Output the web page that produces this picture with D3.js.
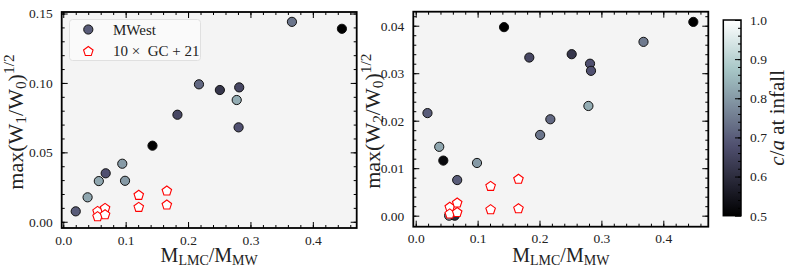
<!DOCTYPE html>
<html><head><meta charset="utf-8">
<script src="https://cdn.jsdelivr.net/npm/d3@7/dist/d3.min.js"></script>
<style>
html,body{margin:0;padding:0;background:#fff;}
svg{display:block;font-family:"Liberation Serif","DejaVu Serif",serif;}
</style></head>
<body>
<svg id="c" width="793" height="273"></svg>
<script>
// ---- data ----
const xW1 = [0.020, 0.039, 0.057, 0.068, 0.0946, 0.099, 0.143, 0.183, 0.2175, 0.251, 0.282, 0.278, 0.281, 0.3665, 0.4466];
const yW1 = [0.0075, 0.0176, 0.0293, 0.0349, 0.0418, 0.0295, 0.0548, 0.0771, 0.0990, 0.0949, 0.0968, 0.0877, 0.0680, 0.1440, 0.1390];
const caW1 = [0.70, 0.82, 0.82, 0.68, 0.80, 0.80, 0.50, 0.66, 0.72, 0.62, 0.66, 0.83, 0.68, 0.74, 0.50];

const xW2 = [0.019, 0.038, 0.0446, 0.054, 0.063, 0.067, 0.099, 0.1427, 0.1835, 0.201, 0.2175, 0.252, 0.2816, 0.2832, 0.279, 0.368, 0.4485];
const yW2 = [0.0216, 0.0145, 0.0116, 0.0000, 0.0000, 0.0075, 0.0111, 0.0397, 0.0333, 0.0170, 0.0203, 0.0340, 0.0320, 0.0305, 0.0231, 0.0366, 0.0408];
const caW2 = [0.70, 0.82, 0.52, 0.78, 0.60, 0.70, 0.80, 0.50, 0.66, 0.74, 0.72, 0.62, 0.68, 0.68, 0.83, 0.75, 0.50];

const xGC = [0.055, 0.055, 0.067, 0.067, 0.121, 0.121, 0.166, 0.166];
const yGC1 = [0.0079, 0.0041, 0.0101, 0.0055, 0.0195, 0.0108, 0.0226, 0.0125];
const yGC2 = [0.0019, 0.0005, 0.0028, 0.0008, 0.0063, 0.0014, 0.0078, 0.0016];

const xTicks = [0.0, 0.1, 0.2, 0.3, 0.4];
const yTicks1 = [0.00, 0.05, 0.10, 0.15];
const yTicks2 = [0.00, 0.01, 0.02, 0.03, 0.04];
const cbTicks = [0.5, 0.6, 0.7, 0.8, 0.9, 1.0];
const legendLabels = ["MWest", "10 \u00d7  GC + 21"];

// ---- bone colormap ----
const boneR = [[0,0],[0.746032,0.652778],[1,1]];
const boneG = [[0,0],[0.365079,0.319444],[0.746032,0.777778],[1,1]];
const boneB = [[0,0],[0.365079,0.444444],[1,1]];
function seg(pts, t){
  for (let i=1;i<pts.length;i++){
    if (t<=pts[i][0]){const a=pts[i-1],b=pts[i];return a[1]+(b[1]-a[1])*(t-a[0])/(b[0]-a[0]);}
  }
  return pts[pts.length-1][1];
}
function bone(t){t=Math.max(0,Math.min(1,t));
  return d3.rgb(255*seg(boneR,t),255*seg(boneG,t),255*seg(boneB,t)).formatHex();}
const cnorm = d3.scaleLinear().domain([0.5,1.0]).range([0,1]).clamp(true);
const ccol = v => bone(cnorm(v));

const svg = d3.select("#c");
const FS = 13.5;
const TF = "Liberation Serif";

function pentPath(r){
  const pts = d3.range(5).map(i=>{const a=-Math.PI/2+i*2*Math.PI/5;return [r*Math.cos(a), r*Math.sin(a)];});
  return d3.line()(pts)+"Z";
}

function subText(g, parts, size){
  parts.forEach(p=>{
    const t = g.append("tspan").text(p[0]);
    if (p[1]==="sub"){t.attr("font-size",size*0.7).attr("baseline-shift","-20%");}
    else if (p[1]==="sup"){t.attr("font-size",size*0.7).attr("baseline-shift","60%");}
  });
}

function panel(o){
  const x = d3.scaleLinear().domain(o.xd).range([o.x0,o.x1]);
  const y = d3.scaleLinear().domain(o.yd).range([o.y1,o.y0]);
  const g = svg.append("g");
  g.append("rect").attr("x",o.x0).attr("y",o.y0).attr("width",o.x1-o.x0).attr("height",o.y1-o.y0).attr("fill","#f4f4f4");

  const minorX = d3.range(0,0.48,0.02);
  const minorY = d3.range(0,o.yd[1],o.ymin);
  const mk = (axis, tr, ticks, size, labels) => {
    const a = axis.tickValues(ticks).tickSize(size).tickSizeOuter(0);
    if (!labels) a.tickFormat("");
    const ag = g.append("g").attr("transform",tr).call(a);
    ag.select(".domain").remove();
    ag.selectAll("line").attr("stroke","#000").attr("stroke-width",1);
    return ag;
  };
  const bx = mk(d3.axisBottom(x).tickFormat(d3.format(".1f")).tickPadding(7), `translate(0,${o.y1})`, xTicks, -6, true);
  bx.selectAll("text").attr("font-size",FS).attr("font-family",TF).attr("fill","#222");
  mk(d3.axisBottom(x), `translate(0,${o.y1})`, minorX, -3, false);
  mk(d3.axisTop(x), `translate(0,${o.y0})`, xTicks, -6, false);
  mk(d3.axisTop(x), `translate(0,${o.y0})`, minorX, -3, false);
  const ly = mk(d3.axisLeft(y).tickFormat(d3.format(".2f")).tickPadding(9), `translate(${o.x0},0)`, o.yt, -6, true);
  ly.selectAll("text").attr("font-size",FS).attr("font-family",TF).attr("fill","#222");
  mk(d3.axisLeft(y), `translate(${o.x0},0)`, minorY, -3, false);
  mk(d3.axisRight(y), `translate(${o.x1},0)`, o.yt, -6, false);
  mk(d3.axisRight(y), `translate(${o.x1},0)`, minorY, -3, false);

  g.append("g").selectAll("circle").data(o.xs.map((v,i)=>({x:v,y:o.ys[i],c:o.cs[i]}))).join("circle")
    .attr("cx",d=>x(d.x)).attr("cy",d=>y(d.y)).attr("r",4.6)
    .attr("fill",d=>ccol(d.c)).attr("stroke","#111").attr("stroke-width",1);
  g.append("g").selectAll("path").data(xGC.map((v,i)=>({x:v,y:o.gc[i]}))).join("path")
    .attr("d",pentPath(5)).attr("transform",d=>`translate(${x(d.x)},${y(d.y)+0.6})`)
    .attr("fill","#fff").attr("stroke","#f00").attr("stroke-width",1.1);

  g.append("rect").attr("x",o.x0).attr("y",o.y0).attr("width",o.x1-o.x0).attr("height",o.y1-o.y0)
    .attr("fill","none").attr("stroke","#000").attr("stroke-width",1.8);

  const xl = g.append("text").attr("x",(o.x0+o.x1)/2).attr("y",262).attr("text-anchor","middle")
    .attr("font-size",20).attr("fill","#222");
  subText(xl, [["M","n"],["LMC","sub"],["/M","n"],["MW","sub"]], 20);
  const yl = g.append("text").attr("transform",`translate(${o.ylx},${(o.y0+o.y1)/2+2}) rotate(-90)`)
    .attr("text-anchor","middle").attr("font-size",22).attr("fill","#222");
  subText(yl, [["max(W","n"],[o.wsub,"sub"],["/W","n"],["0","sub"],[")","n"],["1/2","sup"]], 22);
  return {x,y,g};
}

const L = panel({x0:61.7,x1:356.7,y0:12,y1:228,xd:[-0.0025,0.4703],yd:[-0.0045,0.1511],
  yt:yTicks1,ymin:0.01,xs:xW1,ys:yW1,cs:caW1,gc:yGC1,wsub:"1",ylx:23});
const R = panel({x0:413.3,x1:708.3,y0:11.7,y1:226.7,xd:[-0.0039,0.4727],yd:[-0.00232,0.04295],
  yt:yTicks2,ymin:0.002,xs:xW2,ys:yW2,cs:caW2,gc:yGC2,wsub:"2",ylx:380});

// legend
const lg = svg.append("g");
lg.append("rect").attr("x",69.5).attr("y",19.5).attr("width",131).attr("height",41).attr("rx",3)
  .attr("fill","#fafafa").attr("stroke","#e0e0e0").attr("stroke-width",1);
lg.append("circle").attr("cx",88.3).attr("cy",29.5).attr("r",4.6).attr("fill",ccol(0.70)).attr("stroke","#111");
lg.append("path").attr("d",pentPath(5)).attr("transform","translate(88.3,51.5)").attr("fill","#fff").attr("stroke","#f00").attr("stroke-width",1.1);
lg.selectAll("text").data(legendLabels).join("text").attr("x",113).attr("y",(d,i)=>34.5+i*21)
  .attr("font-size",15).attr("fill","#222").attr("xml:space","preserve").text(d=>d);

// colorbar
const cb = {x0:723.3,x1:741,y0:20,y1:215.7};
const defs = svg.append("defs");
const grad = defs.append("linearGradient").attr("id","bone").attr("x1",0).attr("y1",1).attr("x2",0).attr("y2",0);
grad.selectAll("stop").data(d3.range(0,1.0001,0.05)).join("stop")
  .attr("offset",d=>d).attr("stop-color",d=>bone(d));
svg.append("rect").attr("x",cb.x0).attr("y",cb.y0).attr("width",cb.x1-cb.x0).attr("height",cb.y1-cb.y0).attr("fill","url(#bone)");
const cy = d3.scaleLinear().domain([0.5,1.0]).range([cb.y1,cb.y0]);
const cax = svg.append("g").attr("transform",`translate(${cb.x1},0)`)
  .call(d3.axisRight(cy).tickValues(cbTicks).tickFormat(d3.format(".1f")).tickSize(-6).tickSizeOuter(0).tickPadding(9));
cax.select(".domain").remove();
cax.selectAll("text").attr("font-size",FS).attr("font-family",TF).attr("fill","#222");
const cmin = svg.append("g").attr("transform",`translate(${cb.x1},0)`)
  .call(d3.axisRight(cy).tickValues(d3.range(0.52,1.0,0.02)).tickFormat("").tickSize(-3).tickSizeOuter(0));
cmin.select(".domain").remove();
svg.append("rect").attr("x",cb.x0).attr("y",cb.y0).attr("width",cb.x1-cb.x0).attr("height",cb.y1-cb.y0)
  .attr("fill","none").attr("stroke","#000").attr("stroke-width",1.5);
const cl = svg.append("text").attr("transform",`translate(784,${(cb.y0+cb.y1)/2}) rotate(-90)`)
  .attr("text-anchor","middle").attr("font-size",21).attr("fill","#222");
cl.append("tspan").attr("font-style","italic").text("c");
cl.append("tspan").text("/");
cl.append("tspan").attr("font-style","italic").text("a");
cl.append("tspan").text(" at infall");
</script>
</body></html>
